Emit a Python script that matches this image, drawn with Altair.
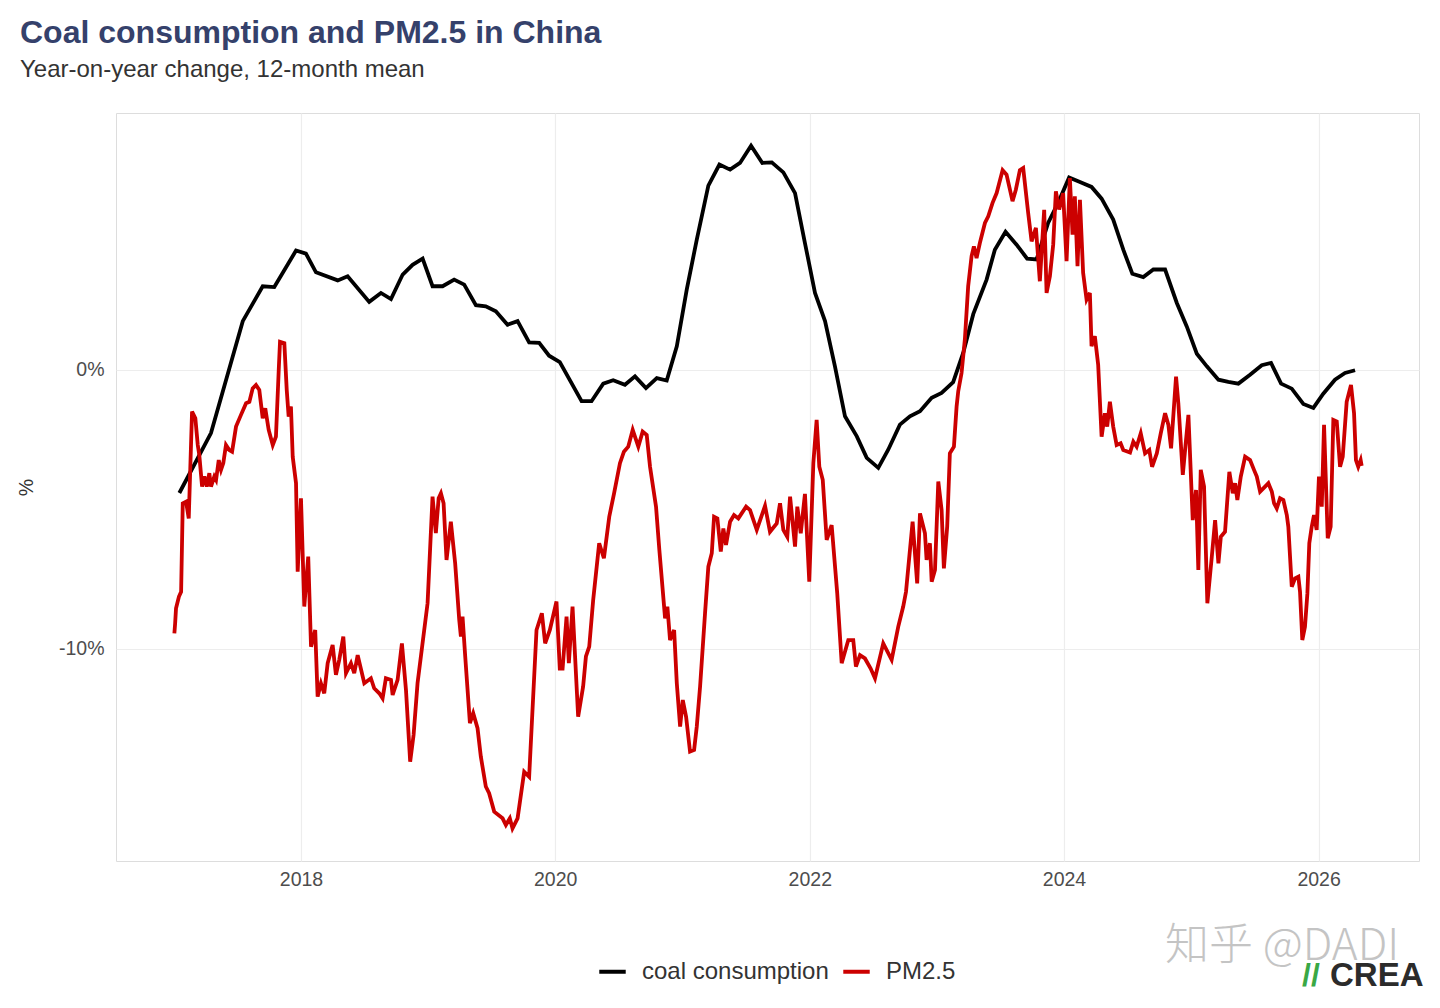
import altair as alt
import pandas as pd

# ---- data (decimal year, % y/y change) ----
coal_t = [2017.043, 2017.292, 2017.542, 2017.699, 2017.790, 2017.961, 2018.039, 2018.118, 2018.289, 2018.367,
          2018.537, 2018.629, 2018.708, 2018.800, 2018.878, 2018.957, 2019.035, 2019.114, 2019.205, 2019.284,
          2019.376, 2019.454, 2019.533, 2019.625, 2019.704, 2019.795, 2019.874, 2019.952, 2020.036, 2020.207,
          2020.285, 2020.377, 2020.455, 2020.547, 2020.626, 2020.712, 2020.797, 2020.875, 2020.954, 2021.032,
          2021.111, 2021.202, 2021.289, 2021.373, 2021.451, 2021.538, 2021.627, 2021.701, 2021.792, 2021.884,
          2021.962, 2022.041, 2022.120, 2022.198, 2022.277, 2022.370, 2022.448, 2022.539, 2022.617, 2022.709,
          2022.788, 2022.867, 2022.959, 2023.037, 2023.128, 2023.207, 2023.286, 2023.391, 2023.456, 2023.540,
          2023.627, 2023.710, 2023.784, 2023.875, 2023.954, 2024.040, 2024.125, 2024.216, 2024.295, 2024.386,
          2024.465, 2024.536, 2024.622, 2024.701, 2024.793, 2024.885, 2024.963, 2025.042, 2025.121, 2025.212,
          2025.290, 2025.369, 2025.461, 2025.553, 2025.626, 2025.705, 2025.789, 2025.880, 2025.959, 2026.037,
          2026.129, 2026.208, 2026.287]
coal_v = [-4.41, -2.26, 1.75, 3.00, 2.97, 4.28, 4.17, 3.50, 3.21, 3.36,
          2.44, 2.76, 2.54, 3.42, 3.77, 3.99, 3.00, 3.00, 3.24, 3.06,
          2.32, 2.28, 2.10, 1.62, 1.75, 0.99, 0.97, 0.51, 0.28, -1.12,
          -1.12, -0.49, -0.37, -0.53, -0.23, -0.65, -0.29, -0.38, 0.85, 2.88,
          4.67, 6.61, 7.36, 7.18, 7.42, 8.04, 7.42, 7.44, 7.08, 6.34,
          4.55, 2.76, 1.75, 0.13, -1.66, -2.38, -3.15, -3.51, -2.86, -1.96,
          -1.66, -1.48, -1.00, -0.82, -0.44, 0.61, 2.00, 3.24, 4.31, 4.95,
          4.49, 3.99, 3.96, 5.27, 5.99, 6.90, 6.74, 6.56, 6.14, 5.39,
          4.31, 3.45, 3.33, 3.60, 3.60, 2.40, 1.56, 0.58, 0.13, -0.35,
          -0.43, -0.49, -0.17, 0.17, 0.25, -0.49, -0.67, -1.22, -1.36, -0.85,
          -0.35, -0.11, -0.01]

pm_t = [2017.004, 2017.010, 2017.017, 2017.040, 2017.057, 2017.070, 2017.096, 2017.117, 2017.143, 2017.169,
        2017.188, 2017.200, 2017.222, 2017.240, 2017.259, 2017.279, 2017.292, 2017.318, 2017.332, 2017.353,
        2017.371, 2017.389, 2017.410, 2017.436, 2017.458, 2017.489, 2017.528, 2017.568, 2017.594, 2017.620,
        2017.646, 2017.672, 2017.699, 2017.719, 2017.746, 2017.778, 2017.803, 2017.825, 2017.835, 2017.869,
        2017.888, 2017.903, 2017.921, 2017.935, 2017.961, 2017.974, 2018.000, 2018.026, 2018.057, 2018.079,
        2018.112, 2018.131, 2018.157, 2018.183, 2018.210, 2018.249, 2018.275, 2018.301, 2018.333, 2018.354,
        2018.393, 2018.419, 2018.446, 2018.498, 2018.550, 2018.576, 2018.616, 2018.642, 2018.668, 2018.708,
        2018.721, 2018.760, 2018.794, 2018.826, 2018.859, 2018.886, 2018.917, 2018.996, 2019.035, 2019.061,
        2019.083, 2019.101, 2019.122, 2019.145, 2019.179, 2019.213, 2019.245, 2019.258, 2019.271, 2019.292,
        2019.329, 2019.355, 2019.389, 2019.415, 2019.454, 2019.480, 2019.520, 2019.586, 2019.612, 2019.643,
        2019.664, 2019.704, 2019.756, 2019.795, 2019.853, 2019.895, 2019.921, 2019.958, 2020.010, 2020.036,
        2020.058, 2020.089, 2020.107, 2020.136, 2020.180, 2020.219, 2020.241, 2020.267, 2020.298, 2020.345,
        2020.382, 2020.424, 2020.461, 2020.508, 2020.539, 2020.573, 2020.608, 2020.652, 2020.686, 2020.718,
        2020.744, 2020.791, 2020.817, 2020.862, 2020.880, 2020.901, 2020.933, 2020.954, 2020.980, 2021.001,
        2021.027, 2021.058, 2021.090, 2021.111, 2021.137, 2021.176, 2021.202, 2021.229, 2021.247, 2021.273,
        2021.300, 2021.320, 2021.341, 2021.373, 2021.404, 2021.438, 2021.499, 2021.530, 2021.583, 2021.648,
        2021.687, 2021.740, 2021.766, 2021.792, 2021.823, 2021.845, 2021.884, 2021.902, 2021.929, 2021.962,
        2021.996, 2022.028, 2022.054, 2022.075, 2022.102, 2022.133, 2022.172, 2022.216, 2022.251, 2022.303,
        2022.342, 2022.363, 2022.395, 2022.434, 2022.479, 2022.513, 2022.578, 2022.644, 2022.696, 2022.735,
        2022.757, 2022.809, 2022.845, 2022.867, 2022.906, 2022.919, 2022.945, 2022.959, 2022.985, 2023.011,
        2023.037, 2023.055, 2023.081, 2023.102, 2023.134, 2023.155, 2023.168, 2023.194, 2023.220, 2023.246,
        2023.273, 2023.291, 2023.312, 2023.338, 2023.378, 2023.404, 2023.438, 2023.470, 2023.517, 2023.548,
        2023.595, 2023.621, 2023.653, 2023.679, 2023.718, 2023.745, 2023.779, 2023.810, 2023.844, 2023.863,
        2023.889, 2023.915, 2023.936, 2023.962, 2023.993, 2024.020, 2024.046, 2024.067, 2024.085, 2024.106,
        2024.125, 2024.150, 2024.177, 2024.203, 2024.216, 2024.242, 2024.268, 2024.295, 2024.321, 2024.339,
        2024.360, 2024.386, 2024.413, 2024.444, 2024.465, 2024.518, 2024.544, 2024.570, 2024.602, 2024.636,
        2024.669, 2024.691, 2024.728, 2024.759, 2024.793, 2024.819, 2024.840, 2024.879, 2024.897, 2024.932,
        2024.950, 2024.976, 2025.010, 2025.036, 2025.054, 2025.073, 2025.099, 2025.125, 2025.160, 2025.186,
        2025.212, 2025.231, 2025.264, 2025.298, 2025.325, 2025.343, 2025.361, 2025.388, 2025.422, 2025.461,
        2025.492, 2025.514, 2025.540, 2025.579, 2025.605, 2025.632, 2025.650, 2025.671, 2025.697, 2025.723,
        2025.750, 2025.762, 2025.789, 2025.815, 2025.841, 2025.854, 2025.872, 2025.893, 2025.912, 2025.927,
        2025.946, 2025.964, 2025.985, 2026.003, 2026.025, 2026.043, 2026.072, 2026.095, 2026.116, 2026.143,
        2026.169, 2026.190, 2026.221, 2026.255, 2026.279, 2026.294, 2026.312, 2026.331, 2026.339]
pm_v = [-9.44, -9.08, -8.54, -8.12, -7.95, -4.78, -4.72, -5.32, -1.49, -1.73,
        -2.69, -3.05, -4.18, -3.82, -4.18, -3.70, -4.18, -3.82, -3.94, -3.23,
        -3.58, -3.34, -2.69, -2.87, -2.93, -2.03, -1.61, -1.19, -1.14, -0.66,
        -0.54, -0.72, -1.73, -1.37, -2.15, -2.69, -2.39, 0.00, 1.01, 0.96,
        -0.72, -1.67, -1.31, -3.11, -4.06, -7.23, -4.60, -8.48, -6.69, -9.92,
        -9.32, -11.71, -11.23, -11.59, -10.51, -9.86, -10.93, -10.39, -9.56, -10.87,
        -10.51, -10.87, -10.22, -11.23, -11.05, -11.41, -11.59, -11.77, -11.05, -11.11,
        -11.65, -11.11, -9.80, -11.47, -14.04, -13.08, -11.23, -8.36, -4.54, -5.85,
        -4.60, -4.42, -4.78, -6.81, -5.44, -6.93, -8.96, -9.56, -8.84, -10.27,
        -12.66, -12.30, -12.84, -13.86, -14.93, -15.17, -15.83, -16.07, -16.31, -16.07,
        -16.43, -16.07, -14.40, -14.58, -9.32, -8.72, -9.80, -9.32, -8.30, -10.70,
        -10.70, -8.84, -10.51, -8.48, -12.43, -11.35, -10.27, -9.92, -8.24, -6.21,
        -6.75, -5.26, -4.44, -3.34, -2.93, -2.75, -2.15, -2.75, -2.21, -2.33,
        -3.47, -4.90, -6.45, -8.90, -8.48, -9.68, -9.32, -11.23, -12.78, -11.83,
        -12.43, -13.68, -13.62, -12.78, -11.35, -8.72, -7.05, -6.57, -5.26, -5.32,
        -6.51, -5.68, -6.27, -5.44, -5.20, -5.32, -4.90, -5.02, -5.73, -4.87,
        -5.80, -5.50, -4.78, -5.73, -5.98, -4.54, -6.33, -4.90, -5.85, -4.44,
        -7.59, -3.34, -1.79, -3.47, -3.94, -6.09, -5.56, -8.01, -10.51, -9.68,
        -9.68, -10.63, -10.22, -10.34, -10.70, -11.05, -9.80, -10.39, -9.20, -8.48,
        -7.95, -5.44, -7.65, -5.14, -5.85, -6.81, -6.21, -7.59, -7.17, -4.00,
        -5.02, -7.11, -5.62, -2.99, -2.75, -1.31, -0.76, -0.11, 1.09, 3.00,
        4.08, 4.43, 4.01, 4.55, 5.27, 5.51, 5.99, 6.34, 7.16, 7.00,
        6.05, 6.46, 7.16, 7.24, 5.63, 4.61, 5.09, 3.18, 5.74, 2.76,
        3.36, 4.49, 6.40, 5.75, 6.34, 3.90, 6.88, 4.85, 6.22, 3.72,
        6.10, 3.48, 2.52, 2.76, 0.85, 1.21, 0.19, -2.39, -1.55, -2.03,
        -1.14, -2.03, -2.69, -2.63, -2.87, -2.96, -2.57, -2.75, -2.27, -2.99,
        -2.87, -3.47, -2.99, -2.27, -1.55, -1.97, -2.81, -0.24, -1.19, -3.76,
        -2.87, -1.61, -5.38, -4.30, -7.17, -3.58, -4.18, -8.36, -6.69, -5.38,
        -6.93, -5.98, -5.80, -3.65, -4.42, -4.06, -4.66, -3.82, -3.11, -3.23,
        -3.58, -3.82, -4.36, -4.18, -4.06, -4.36, -4.78, -4.96, -4.60, -4.66,
        -5.20, -5.62, -7.77, -7.47, -7.41, -7.95, -9.68, -9.20, -8.01, -6.21,
        -5.62, -5.20, -5.73, -3.82, -4.90, -1.97, -6.03, -5.62, -1.79, -1.85,
        -3.47, -3.11, -1.14, -0.54, -1.55, -3.23, -3.47, -3.23, -3.44]

series_names = ["coal consumption", "PM2.5"]
series_colors = ["#000000", "#cc0000"]
x_ticks = [2018, 2020, 2022, 2024, 2026]
y_ticks = [-10, 0]


def to_date(t):
    y = int(t)
    start = pd.Timestamp(year=y, month=1, day=1)
    end = pd.Timestamp(year=y + 1, month=1, day=1)
    return start + (end - start) * (t - y)


coal_df = pd.DataFrame({"date": [to_date(t) for t in coal_t], "value": coal_v, "series": series_names[0]})
pm_df = pd.DataFrame({"date": [to_date(t) for t in pm_t], "value": pm_v, "series": series_names[1]})

FONT = "Liberation Sans"
AX = 19.5

x_enc = alt.X(
    "date:T",
    title=None,
    scale=alt.Scale(domain=[to_date(2016.546).isoformat(), to_date(2026.79).isoformat()], nice=False),
    axis=alt.Axis(
        values=[pd.Timestamp(year=y, month=1, day=1).isoformat() for y in x_ticks],
        format="%Y", labelFontSize=AX, labelColor="#4d4d4d", labelFont=FONT,
        ticks=False, domain=False, gridColor="#ededed", gridWidth=1.2, labelPadding=9,
    ),
)
y_enc = alt.Y(
    "value:Q",
    title="%",
    scale=alt.Scale(domain=[-17.6, 9.21], nice=False, zero=False),
    axis=alt.Axis(
        values=y_ticks, labelExpr="datum.value + '%'", labelFontSize=AX, labelColor="#4d4d4d",
        labelFont=FONT, ticks=False, domain=False, gridColor="#ededed", gridWidth=1.2,
        labelPadding=12, titleFontSize=AX, titleFont=FONT, titleFontWeight="normal",
        titleColor="#333333", titlePadding=22,
    ),
)
color_enc = alt.Color(
    "series:N",
    scale=alt.Scale(domain=series_names, range=series_colors),
    legend=alt.Legend(
        title=None, orient="none", direction="horizontal", legendX=481, legendY=843,
        symbolType="stroke", symbolStrokeWidth=4, symbolSize=700, labelFontSize=24,
        labelFont=FONT, labelColor="#333333", labelOffset=14, columnPadding=6, labelLimit=400,
    ),
)

coal = alt.Chart(coal_df).mark_line(strokeWidth=3.8).encode(x=x_enc, y=y_enc, color=color_enc)
pm = alt.Chart(pm_df).mark_line(strokeWidth=3.8).encode(x=x_enc, y=y_enc, color=color_enc)

watermark = alt.Chart(pd.DataFrame({"t": ["知乎 @DADI"]})).mark_text(
    font="Noto Sans CJK SC", fontSize=44, fontWeight=300, color="#c4c4c4", align="left", baseline="middle"
).encode(x=alt.value(1049), y=alt.value(834), text="t:N")

crea_icon = alt.Chart(pd.DataFrame({"t": ["//"]})).mark_text(
    font=FONT, fontSize=32, fontWeight="bold", color="#3aa845", align="left", baseline="middle"
).encode(x=alt.value(1186), y=alt.value(863), text="t:N")

crea = alt.Chart(pd.DataFrame({"t": ["CREA"]})).mark_text(
    font=FONT, fontSize=33, fontWeight="bold", color="#2b2b2b", align="left", baseline="middle"
).encode(x=alt.value(1214), y=alt.value(863), text="t:N")

chart = alt.layer(coal, pm, watermark, crea_icon, crea).properties(
    width=1303,
    height=748,
    autosize=alt.AutoSizeParams(type="none"),
    padding={"left": 108, "top": 105, "right": 10, "bottom": 140},
    title=alt.TitleParams(
        text="Coal consumption and PM2.5 in China",
        subtitle="Year-on-year change, 12-month mean",
        anchor="start", frame="group", dx=-96, offset=30,
        font=FONT, fontSize=32, fontWeight="bold", color="#35416b",
        subtitleFont=FONT, subtitleFontSize=24, subtitleColor="#333333", subtitlePadding=8,
    ),
).configure_view(stroke="#ebebeb", strokeWidth=1.2).configure(background="white")

chart.save("out.html", embed_options={"renderer": "svg", "actions": False})
